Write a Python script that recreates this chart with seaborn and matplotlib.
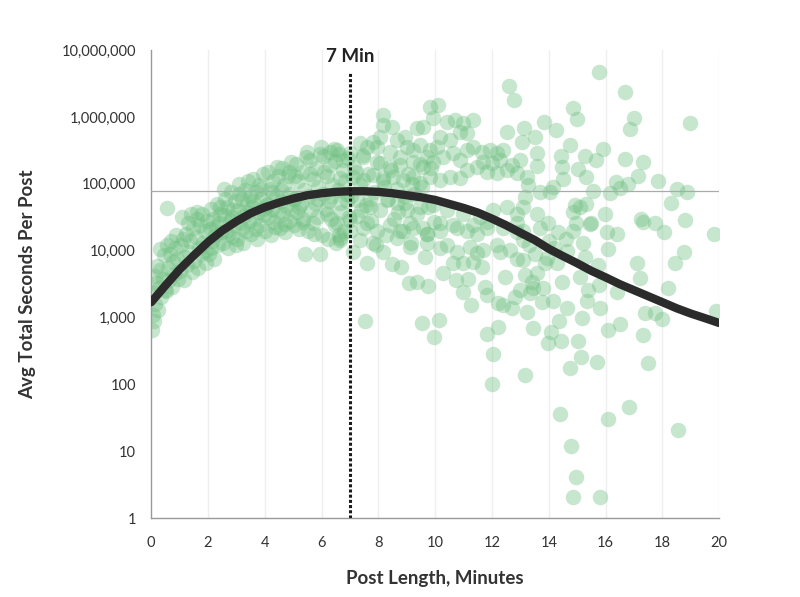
import pandas as pd
import matplotlib
matplotlib.use("Agg")
import matplotlib.pyplot as plt
import matplotlib.ticker as ticker
import seaborn as sns

# ── Data (minutes, avg total seconds) ────────────────────────────────────────
# short posts, 0-7 min: the dense rising blob
short_min = [
    0.02, 0.05, 0.08, 0.10, 0.12, 0.15, 0.18, 0.22, 0.25, 0.28, 0.32, 0.36, 0.40, 0.44, 0.47, 0.30,
    0.52, 0.55, 0.58, 0.62, 0.65, 0.68, 0.72, 0.75, 0.80, 0.84, 0.88, 0.92, 0.96, 0.55,
    1.02, 1.05, 1.10, 1.14, 1.18, 1.22, 1.26, 1.30, 1.34, 1.38, 1.42, 1.46, 1.12, 1.40,
    1.52, 1.56, 1.60, 1.64, 1.68, 1.72, 1.76, 1.80, 1.84, 1.88, 1.92, 1.96, 1.62, 1.90,
    2.02, 2.06, 2.10, 2.14, 2.18, 2.22, 2.26, 2.30, 2.34, 2.38, 2.42, 2.46, 2.12, 2.28, 2.44,
    2.52, 2.55, 2.60, 2.64, 2.68, 2.72, 2.76, 2.80, 2.84, 2.88, 2.92, 2.96, 2.58, 2.70, 2.86, 2.98,
    3.02, 3.06, 3.10, 3.14, 3.18, 3.22, 3.26, 3.30, 3.34, 3.38, 3.42, 3.46, 3.08, 3.20, 3.36, 3.48,
    3.52, 3.56, 3.60, 3.64, 3.68, 3.72, 3.76, 3.80, 3.84, 3.88, 3.92, 3.96, 3.58, 3.70, 3.86, 3.98,
    4.02, 4.06, 4.10, 4.14, 4.18, 4.22, 4.26, 4.30, 4.34, 4.38, 4.42, 4.46, 4.08, 4.24, 4.36, 4.48,
    4.52, 4.56, 4.60, 4.64, 4.68, 4.72, 4.76, 4.80, 4.84, 4.88, 4.92, 4.96, 4.58, 4.70, 4.86, 4.98,
    5.02, 5.06, 5.10, 5.14, 5.18, 5.22, 5.26, 5.30, 5.34, 5.38, 5.42, 5.46, 5.08, 5.20, 5.36, 5.48,
    5.52, 5.56, 5.60, 5.64, 5.68, 5.72, 5.76, 5.80, 5.84, 5.88, 5.95, 5.96, 5.58, 5.70, 5.86, 5.98,
    6.02, 6.06, 6.10, 6.14, 6.18, 6.22, 6.26, 6.30, 6.34, 6.38, 6.42, 6.46, 6.08, 6.20, 6.36, 6.48,
    6.52, 6.58, 6.62, 6.70, 6.74, 6.80, 6.84, 6.88, 6.92, 6.96, 6.60, 6.90,
]
short_sec = [
    650, 1100, 2400, 900, 4200, 1600, 3300, 6000, 1300, 2800, 5200, 2000, 3800, 8500, 2600, 10500,
    2500, 44000, 5500, 3600, 9000, 14000, 2900, 6800, 4500, 11000, 17000, 7500, 3800, 12000,
    5000, 12000, 32000, 3600, 8000, 18000, 6200, 26000, 9500, 14000, 4800, 22000, 15000, 35000,
    7000, 16000, 30000, 5500, 11000, 24000, 9000, 36000, 13000, 20000, 6500, 28000, 38000, 10000,
    9000, 21000, 42000, 14000, 30000, 7500, 17000, 50000, 12000, 26000, 36000, 19000, 11000, 23000, 45000,
    13000, 34000, 60000, 20000, 45000, 11000, 28000, 75000, 16000, 40000, 24000, 55000, 85000, 18000, 32000, 12000,
    15000, 40000, 100000, 26000, 60000, 13000, 33000, 80000, 20000, 50000, 110000, 28000, 70000, 22000, 38000, 65000,
    18000, 45000, 120000, 30000, 75000, 15000, 38000, 95000, 24000, 60000, 140000, 34000, 55000, 21000, 85000, 42000,
    20000, 50000, 150000, 32000, 85000, 17000, 42000, 110000, 27000, 65000, 180000, 38000, 48000, 75000, 23000, 130000,
    22000, 55000, 170000, 35000, 95000, 19000, 46000, 130000, 28000, 70000, 210000, 40000, 80000, 25000, 150000, 60000,
    24000, 60000, 200000, 38000, 110000, 21000, 50000, 150000, 30000, 80000, 9000, 250000, 130000, 45000, 27000, 300000,
    20000, 65000, 230000, 40000, 120000, 18000, 52000, 170000, 32000, 90000, 9000, 280000, 140000, 26000, 60000, 350000,
    17000, 70000, 260000, 42000, 130000, 15000, 55000, 190000, 30000, 95000, 330000, 24000, 150000, 36000, 65000, 220000,
    13000, 80000, 280000, 38000, 160000, 20000, 110000, 55000, 240000, 32000, 17000, 70000,
]

# mid-length posts, 6.5-13 min
mid_min = [
    7.54, 9.54, 10.14, 9.96, 11.83, 12.22, 12.05, 12.00,
    9.08, 9.37, 9.75, 7.60, 8.49, 8.80, 8.17, 7.11, 6.65, 10.28, 10.74, 10.99, 11.16, 11.27,
    10.63, 10.99, 11.34, 11.65, 11.76, 11.83, 12.22, 12.39, 12.71, 12.46, 12.82, 11.48, 12.29, 12.89,
    8.17, 9.82, 10.10, 12.60, 12.78, 8.17, 8.49, 8.94, 8.66, 8.06, 7.96, 9.37, 9.58, 9.93,
    10.42, 10.70, 10.99, 11.34, 10.88, 11.13, 10.18, 10.53, 12.54,
    11.34, 11.13, 11.65, 11.94, 12.18, 12.39, 7.36, 7.60, 7.82, 6.55, 6.30,
    9.01, 9.23, 9.47, 9.82, 10.07, 9.72, 10.28, 10.63, 10.88,
    11.69, 12.00, 12.29, 12.71, 13.00, 9.23, 9.58, 9.93, 8.77, 8.42, 8.06, 7.46, 7.00, 6.76,
    11.13, 11.48, 11.83, 12.18, 12.54, 12.89, 13.24, 9.82, 10.18, 10.53, 10.88,
    9.23, 9.47, 8.87, 8.52, 8.17, 7.82, 7.46, 7.11, 6.65,
    6.65, 7.25, 7.71, 8.31, 8.66, 9.01, 9.47, 9.93, 10.42, 10.99, 11.58, 12.04, 12.54, 12.89,
    7.00, 7.60, 9.12, 9.58, 10.18, 10.77, 11.34, 11.83, 12.89,
    6.55, 7.00, 7.46, 7.96, 8.42, 8.77, 9.23, 9.72, 10.18, 10.63, 11.13, 11.48, 11.83, 12.39, 12.89,
    6.65, 7.36, 7.82, 8.66, 9.12, 9.72, 10.18, 10.42, 10.77, 11.23, 11.69, 12.18, 12.64, 13.10,
    7.05, 7.15, 7.25, 7.35, 7.45, 7.55, 7.65, 7.75, 7.85, 7.95, 8.05, 8.15, 8.25, 8.35, 8.45,
    8.55, 8.65, 8.75, 8.85, 8.95, 9.05, 9.15, 9.25, 9.35, 9.45, 9.55, 9.65, 9.75, 9.85, 9.95,
    7.20, 7.70, 8.20, 8.70, 9.20, 9.70, 7.40, 7.90, 8.40, 8.90,
]
mid_sec = [
    890, 830, 910, 510, 570, 720, 290, 102,
    3300, 3400, 3000, 6600, 6300, 5700, 9500, 9500, 14500, 4700, 3600, 2400, 3800, 1550,
    6600, 6600, 6800, 5700, 2900, 2200, 1650, 1550, 1400, 4100, 2000, 9300, 9500, 7600,
    1070000, 1400000, 1500000, 2900000, 1800000, 760000, 700000, 500000, 450000, 500000, 355000, 680000, 700000, 960000,
    830000, 890000, 810000, 890000, 590000, 570000, 500000, 450000, 590000,
    355000, 320000, 300000, 320000, 290000, 320000, 410000, 355000, 420000, 320000, 300000,
    355000, 320000, 380000, 320000, 355000, 250000, 250000, 290000, 230000,
    215000, 205000, 230000, 190000, 230000, 215000, 180000, 215000, 190000, 180000, 205000, 250000, 290000, 230000,
    160000, 180000, 150000, 145000, 160000, 145000, 125000, 125000, 115000, 125000, 123000,
    125000, 102000, 115000, 125000, 123000, 135000, 115000, 125000, 123000,
    51000, 58000, 45000, 58000, 51000, 41000, 45000, 48000, 41000, 36000, 32000, 41000, 45000, 36000,
    29000, 26000, 26000, 22000, 26000, 22000, 24000, 27000, 26000,
    26000, 20000, 22000, 20000, 24000, 20000, 22000, 18000, 20000, 24000, 20000, 18000, 22000, 22000, 19000,
    15500, 14500, 13000, 15500, 11500, 13000, 11000, 12300, 9500, 11500, 10200, 12300, 10200, 14500,
    65000, 180000, 33000, 95000, 270000, 48000, 140000, 28000, 75000, 210000, 40000, 110000, 17000, 60000, 160000,
    30000, 85000, 250000, 20000, 52000, 140000, 13000, 70000, 35000, 200000, 90000, 8000, 45000, 170000, 27000,
    150000, 60000, 90000, 38000, 100000, 18000, 40000, 12000, 300000, 65000,
]

# long posts, 13-20 min: sparse cloud
long_min = [
    15.77, 16.69, 14.86, 15.00, 17.00, 16.87, 18.98, 13.84, 14.26, 13.13, 13.52, 13.06, 14.75, 15.92,
    13.60, 15.28, 15.67, 14.44, 16.69, 17.32, 13.60, 14.47, 15.03, 14.51, 15.32, 17.15, 17.85, 16.37,
    16.80, 16.50, 16.16, 15.56, 18.52, 18.87, 18.30, 13.27, 13.70, 14.05, 14.15, 13.17, 14.93, 15.10,
    15.32, 14.86, 15.99, 17.25, 17.75, 18.80, 15.50, 14.96, 13.10, 13.60, 13.98,
    19.80, 18.77, 18.45, 18.06, 17.10, 17.20, 18.20, 17.40, 17.75, 18.00, 19.90, 17.30, 17.50,
    16.40, 16.50, 16.10, 16.10, 15.70, 15.14, 14.75, 15.04, 15.18, 15.80, 15.35, 15.39, 15.78,
    15.74, 15.28, 15.10, 14.65, 14.30, 14.47, 14.65, 14.37, 14.15, 14.08, 14.44, 13.98, 13.45,
    13.23, 13.77, 13.35, 13.00, 13.80, 13.45, 13.17, 13.60, 13.40, 13.10, 13.94, 13.87, 13.17,
    13.10, 13.70, 14.33, 14.86, 15.46, 16.06, 16.40, 17.30,
    13.30, 13.50, 14.00, 14.20, 14.60, 15.20,
    14.40, 16.10, 16.83, 18.56, 14.79, 14.96, 14.86, 15.80,
]
long_sec = [
    4700000, 2400000, 1350000, 940000, 960000, 660000, 820000, 830000, 630000, 680000, 510000, 420000, 380000, 330000,
    290000, 260000, 230000, 260000, 235000, 210000, 185000, 180000, 167000, 117000, 125000, 130000, 110000, 106000,
    100000, 87000, 73000, 78000, 83000, 75000, 51000, 95000, 75000, 75000, 90000, 63000, 48000, 45000,
    50000, 38000, 35000, 30000, 26000, 29000, 26000, 26000, 45000, 36000, 26000,
    18000, 9500, 6600, 19000, 6600, 3900, 2800, 1170, 1170, 960, 1260, 550, 210,
    2400, 800, 650, 10700, 220, 260, 178, 450, 980, 1380, 1800, 2600, 3100,
    6200, 8100, 4100, 10000, 6600, 3400, 1400, 900, 1800, 600, 450, 420, 690,
    1200, 1700, 2300, 2600, 2800, 2800, 4400, 4700, 3400, 7200, 7800, 6600, 140,
    20000, 22000, 19000, 20000, 25000, 19000, 18000, 27000,
    12000, 9000, 14000, 11000, 15000, 13000,
    36, 30, 46, 21, 12, 4.2, 2.1, 2.1,
]

# fitted trend line
curve_min = [0, 0.5, 1, 1.5, 2, 2.5, 3, 3.5, 4, 4.5, 5, 5.5, 6, 6.5, 7, 7.5, 8, 8.5, 9, 9.5,
             10, 10.5, 11, 11.5, 12, 12.5, 13, 13.5, 14, 14.5, 15, 15.5, 16, 16.5, 17, 17.5,
             18, 18.5, 19, 19.5, 20]
curve_sec = [1700, 3020, 5250, 8500, 13500, 20000, 27500, 36300, 44700, 52500, 60300, 67600,
             72400, 75900, 77600, 77600, 75900, 72400, 67600, 63100, 57500, 50100, 43700, 37200,
             30200, 24000, 18600, 14500, 10700, 8300, 6500, 5000, 4000, 3160, 2570, 2090, 1700,
             1380, 1150, 980, 830]

peak_min = 7
peak_sec = 77600
x_ticks = [0, 2, 4, 6, 8, 10, 12, 14, 16, 18, 20]
y_ticks = [1, 10, 100, 1000, 10000, 100000, 1000000, 10000000]

df = pd.DataFrame({
    "minutes": short_min + mid_min + long_min,
    "seconds": short_sec + mid_sec + long_sec,
})

# ── Figure ────────────────────────────────────────────────────────────────────
sns.set_style("white")
plt.rcParams["font.family"] = ["Lato", "DejaVu Sans"]

fig = plt.figure(figsize=(8, 5.97), dpi=100)
ax = fig.add_axes([0.189, 0.132, 0.71, 0.784])

for xv in x_ticks[1:]:
    ax.axvline(xv, color="#efefef", linewidth=1, zorder=0)

sns.scatterplot(data=df, x="minutes", y="seconds", ax=ax, s=125,
                color="#6dbf80", alpha=0.38, linewidth=0, zorder=2)

ax.axhline(peak_sec, color="#aaaaaa", linewidth=0.9, zorder=3)
sns.lineplot(x=curve_min, y=curve_sec, ax=ax, color="#2b2b2b", linewidth=6,
             zorder=4, solid_capstyle="round")
ax.axvline(peak_min, ymin=0, ymax=0.953, color="#1a1a1a", linewidth=2.2,
           linestyle=(0, (1, 0.7)), zorder=5)
ax.text(peak_min, 10 ** 6.9, "7 Min", ha="center", va="center",
        fontsize=13.5, fontweight="bold", color="#222222")

ax.set_yscale("log")
ax.set_xlim(0, 20)
ax.set_ylim(1, 1e7)
ax.set_xticks(x_ticks)
ax.set_yticks(y_ticks)
ax.yaxis.set_minor_locator(ticker.NullLocator())
ax.yaxis.set_major_formatter(ticker.FuncFormatter(lambda v, p: f"{int(v):,}"))

for side in ["top", "right"]:
    ax.spines[side].set_visible(False)
for side in ["left", "bottom"]:
    ax.spines[side].set_color("#9a9a9a")
    ax.spines[side].set_linewidth(1)

ax.tick_params(axis="both", length=5, width=1, color="#9a9a9a",
               labelsize=10.5, labelcolor="#333333", pad=6)
ax.tick_params(axis="x", pad=8)

ax.set_xlabel("Post Length, Minutes", fontsize=13.5, fontweight="bold",
              color="#333333", labelpad=14)
ax.set_ylabel("Avg Total Seconds Per Post", fontsize=13.5, fontweight="bold",
              color="#333333", labelpad=18)

plt.savefig("out.png", dpi=100, facecolor="white")
